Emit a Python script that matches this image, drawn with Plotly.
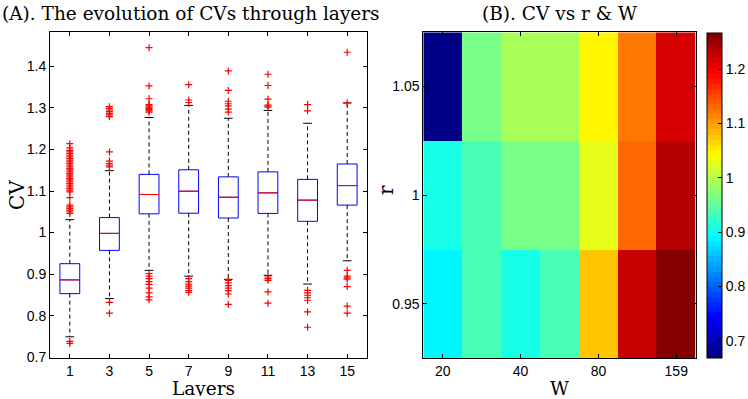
import plotly.graph_objects as go

# ---------------- data: panel A (box plot summary) ----------------
layers = [1, 3, 5, 7, 9, 11, 13, 15]
q1 = [0.853, 0.957, 1.045, 1.0465, 1.035, 1.046, 1.027, 1.066]
med = [0.886, 0.998, 1.0916, 1.0995, 1.085, 1.0955, 1.078, 1.113]
q3 = [0.925, 1.036, 1.140, 1.151, 1.134, 1.146, 1.128, 1.165]
whisk_lo = [0.749, 0.841, 0.909, 0.895, 0.8875, 0.897, 0.876, 0.932]
whisk_hi = [1.031, 1.149, 1.277, 1.306, 1.275, 1.294, 1.263, 1.312]

out_1 = [0.738, 0.733,
         1.046, 1.050, 1.054, 1.058, 1.062, 1.066, 1.084,
         1.098, 1.102, 1.106, 1.110, 1.114, 1.118, 1.122, 1.126, 1.130, 1.134,
         1.138, 1.142, 1.146, 1.150, 1.154, 1.158, 1.162, 1.166, 1.170, 1.174,
         1.178, 1.182, 1.186, 1.190, 1.194, 1.198, 1.204, 1.214]
out_3 = [0.832, 0.806, 1.158, 1.162, 1.166, 1.172, 1.194,
         1.279, 1.283, 1.287, 1.291, 1.295, 1.299, 1.303]
out_5 = [0.901, 0.895, 0.889, 0.882, 0.875, 0.866, 0.855, 0.845, 0.838,
         1.290, 1.293, 1.296, 1.299, 1.302, 1.305, 1.308, 1.322, 1.353, 1.445]
out_7 = [0.889, 0.882, 0.876, 0.871, 0.866, 0.860, 0.856, 1.313, 1.319, 1.356]
out_9 = [0.885, 0.879, 0.872, 0.866, 0.860, 0.852, 0.827,
         1.290, 1.297, 1.305, 1.310, 1.316, 1.342, 1.389]
out_11 = [0.893, 0.889, 0.885, 0.857, 0.830, 1.302, 1.305, 1.307, 1.321, 1.354, 1.381]
out_13 = [0.861, 0.855, 0.849, 0.843, 0.837, 0.809, 0.772, 1.293, 1.308]
out_15 = [0.909, 0.895, 0.891, 0.888, 0.870, 0.823, 0.806, 1.312, 1.434]
outliers = [out_1, out_3, out_5, out_7, out_9, out_11, out_13, out_15]

# ---------------- data: panel B (heatmap) ----------------
W_labels = ['20', '28', '40', '56', '80', '113', '159']
W_ticks = ['20', '40', '80', '159']
r_vals = [0.95, 1.0, 1.05]
cv_grid = [
    [0.892, 0.937, 0.910, 0.937, 1.072, 1.221, 1.266],   # r = 0.95
    [0.910, 0.930, 0.960, 0.960, 1.031, 1.135, 1.229],   # r = 1.00
    [0.668, 0.967, 0.990, 0.990, 1.042, 1.123, 1.210],   # r = 1.05
]
c_min, c_max = 0.668, 1.266

# ---------------- layout helpers (pixel -> paper) ----------------
W_FIG, H_FIG = 748, 399
ML, MR, MT, MB = 50, 52, 32, 41
PW, PH = W_FIG - ML - MR, H_FIG - MT - MB
def px(x):
    return (x - ML) / PW
def py(y):
    return 1 - (y - MT) / PH

# MATLAB jet, 64 discrete levels
def jet(f):
    def ch(f, c):
        return max(0.0, min(1.0, 1.5 - abs(4 * f - c)))
    return (ch(f, 3), ch(f, 2), ch(f, 1))
N = 64
jet_scale = []
for i in range(N):
    r, g, b = jet((i + 0.5) / N)
    col = 'rgb(%d,%d,%d)' % (round(r * 255), round(g * 255), round(b * 255))
    jet_scale.append([i / N, col])
    jet_scale.append([(i + 1) / N, col])

tick_font = dict(family='Liberation Sans, Arial, sans-serif', size=14, color='black')
serif = 'DejaVu Serif, Liberation Serif, serif'

pos = list(range(1, len(layers) + 1))
half_box = 0.25
half_cap = 0.11

fig = go.Figure()

# boxes
fig.add_trace(go.Box(
    x=pos, q1=q1, median=med, q3=q3, lowerfence=q1, upperfence=q3,
    width=2 * half_box, whiskerwidth=0, boxpoints=False,
    line=dict(color='rgb(0,0,255)', width=1), fillcolor='white',
    showlegend=False, hoverinfo='skip', xaxis='x', yaxis='y'))

# whiskers (dashed)
wx, wy = [], []
for p, a, b, c, d in zip(pos, q3, whisk_hi, q1, whisk_lo):
    wx += [p, p, None, p, p, None]
    wy += [a, b, None, c, d, None]
fig.add_trace(go.Scatter(x=wx, y=wy, mode='lines',
                         line=dict(color='black', width=1, dash='4px,3px'),
                         showlegend=False, hoverinfo='skip'))
# caps
cx, cy = [], []
for p, lo, hi in zip(pos, whisk_lo, whisk_hi):
    cx += [p - half_cap, p + half_cap, None, p - half_cap, p + half_cap, None]
    cy += [hi, hi, None, lo, lo, None]
fig.add_trace(go.Scatter(x=cx, y=cy, mode='lines', line=dict(color='black', width=1),
                         showlegend=False, hoverinfo='skip'))
# medians
mx, my = [], []
for p, m in zip(pos, med):
    mx += [p - half_box, p + half_box, None]
    my += [m, m, None]
fig.add_trace(go.Scatter(x=mx, y=my, mode='lines', line=dict(color='red', width=1),
                         showlegend=False, hoverinfo='skip'))
# outliers
ox, oy = [], []
for p, vals in zip(pos, outliers):
    ox += [p] * len(vals)
    oy += vals
fig.add_trace(go.Scatter(x=ox, y=oy, mode='markers',
                         marker=dict(symbol='cross-thin', size=5,
                                     line=dict(color='red', width=1.2)),
                         showlegend=False, hoverinfo='skip'))

# heatmap
fig.add_trace(go.Heatmap(
    x=W_labels, y=r_vals, z=cv_grid, zmin=c_min, zmax=c_max,
    colorscale=jet_scale, xaxis='x2', yaxis='y2', hoverinfo='skip',
    colorbar=dict(x=px(707.3), xanchor='left', xpad=0, ypad=0,
                  y=py(33.3), yanchor='top', len=(358.3 - 33.3) / PH, lenmode='fraction',
                  thickness=15, thicknessmode='pixels',
                  outlinecolor='black', outlinewidth=1,
                  ticks='inside', ticklen=4, tickcolor='black',
                  tickvals=[0.7, 0.8, 0.9, 1.0, 1.1, 1.2],
                  ticktext=['0.7', '0.8', '0.9', '1', '1.1', '1.2'],
                  tickfont=tick_font)))

axis_common = dict(showline=True, linecolor='black', linewidth=1, mirror='ticks',
                   ticks='inside', ticklen=4, tickcolor='black', showgrid=False,
                   zeroline=False, tickfont=tick_font, automargin=False)

ann_font = lambda s: dict(family=serif, size=s, color='black')
fig.update_layout(
    template='none',
    width=W_FIG, height=H_FIG, margin=dict(l=ML, r=MR, t=MT, b=MB, autoexpand=False),
    paper_bgcolor='white', plot_bgcolor='white',
    xaxis=dict(domain=[px(50), px(367)], range=[0.5, len(layers) + 0.5],
               tickvals=pos, ticktext=[str(v) for v in layers], anchor='y', **axis_common),
    yaxis=dict(domain=[py(358), py(32.3)], range=[0.698, 1.482],
               tick0=0.7, dtick=0.1, anchor='x', **axis_common),
    xaxis2=dict(domain=[px(423.3), px(695.7)], type='category',
                tickvals=W_ticks, ticktext=W_ticks, anchor='y2', **axis_common),
    yaxis2=dict(domain=[py(358), py(32.3)], range=[0.925, 1.075],
                tickvals=r_vals, ticktext=['0.95', '1', '1.05'], anchor='x2', **axis_common),
    annotations=[
        dict(text='(A). The evolution of CVs through layers', x=px(191), y=py(13),
             xanchor='center', yanchor='middle',
             xref='paper', yref='paper', showarrow=False, font=ann_font(18.5)),
        dict(text='(B). CV vs r &amp; W', x=px(559), y=py(13),
             xanchor='center', yanchor='middle',
             xref='paper', yref='paper', showarrow=False, font=ann_font(18.5)),
        dict(text='CV', x=px(17), y=py(195), textangle=-90,
             xanchor='center', yanchor='middle',
             xref='paper', yref='paper', showarrow=False, font=ann_font(20)),
        dict(text='Layers', x=px(203), y=py(387.5), height=16,
             xanchor='center', yanchor='middle',
             xref='paper', yref='paper', showarrow=False, font=ann_font(18.5)),
        dict(text='W', x=px(559), y=py(387.5), height=16,
             xanchor='center', yanchor='middle',
             xref='paper', yref='paper', showarrow=False, font=ann_font(18.5)),
        dict(text='r', x=px(386), y=py(190), textangle=-90,
             xanchor='center', yanchor='middle',
             xref='paper', yref='paper', showarrow=False, font=ann_font(20)),
    ],
)

fig.write_html('out.html', config={'displayModeBar': False},
               post_script="document.body.style.margin='0px';")
